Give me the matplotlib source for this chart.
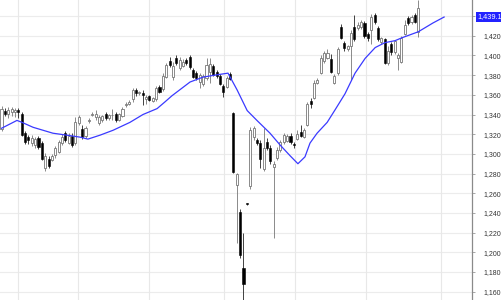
import numpy as np
import matplotlib
matplotlib.use("Agg")
import matplotlib.pyplot as plt
import matplotlib.transforms as mtransforms

plt.rcParams['font.family'] = ['Liberation Sans', 'DejaVu Sans']

# daily candles (index = trading day)
opens = [1325, 1344, 1341, 1343, 1343, 1345, 1341, 1321, 1317, 1311, 1309, 1316, 1311, 1286, 1295, 1294,
         1299, 1302, 1311, 1321, 1311, 1318, 1311, 1331, 1325, 1318, 1333, 1340, 1337, 1331, 1334, 1341,
         1336, 1339, 1341, 1334, 1338, 1350, 1351, 1356, 1365, 1362, 1362, 1356, 1359, 1354, 1356, 1368,
         1366, 1378, 1394, 1378, 1397, 1387, 1389, 1395, 1398, 1385, 1382, 1373, 1371, 1377, 1383, 1389,
         1383, 1379, 1369, 1368, 1381, 1342, 1268, 1241, 1184, 1249.5, 1267, 1317, 1314, 1311, 1285, 1312,
         1306, 1287, 1296, 1304, 1312, 1313, 1318, 1310, 1315, 1322, 1317, 1329, 1354, 1357, 1372, 1382,
         1394, 1397, 1396, 1372, 1382, 1429, 1413, 1407, 1410, 1429, 1428, 1429, 1433, 1422, 1426, 1441,
         1428, 1414, 1417, 1392, 1412, 1403, 1397, 1393, 1422, 1438, 1434, 1441, 1424]
highs = [1349, 1347, 1348, 1348, 1347, 1347, 1343, 1323, 1319, 1319, 1317, 1318, 1313, 1301, 1298, 1300,
         1308, 1314, 1320, 1323, 1321, 1321, 1337, 1340, 1329, 1328, 1336, 1343, 1345, 1339, 1340, 1343,
         1341, 1346, 1343, 1342, 1348, 1353, 1355, 1367, 1367, 1364, 1365, 1360, 1360, 1358, 1369, 1370,
         1382, 1392, 1398, 1393, 1400, 1398, 1396, 1397, 1400, 1387, 1384, 1382, 1381, 1397, 1397, 1391,
         1385, 1381, 1371, 1379, 1383, 1343, 1281, 1244, 1220, 1250, 1327, 1328, 1316, 1314, 1326, 1316,
         1309, 1293, 1307, 1314, 1321, 1320, 1321, 1312, 1324, 1329, 1326, 1353, 1357, 1375, 1377, 1400,
         1404, 1407, 1401, 1381, 1409, 1432, 1415, 1411, 1426, 1441, 1434, 1436, 1435, 1424, 1442, 1443,
         1430, 1419, 1418, 1410, 1414, 1416, 1402, 1420, 1436, 1440, 1441, 1443, 1456]
lows = [1323, 1338, 1336, 1338, 1337, 1336, 1318, 1310, 1310, 1308, 1306, 1305, 1294, 1283, 1286, 1293,
        1296, 1301, 1309, 1312, 1310, 1307, 1309, 1329, 1315, 1316, 1331, 1338, 1334, 1329, 1332, 1334,
        1334, 1334, 1332, 1333, 1337, 1348, 1350, 1353, 1359, 1360, 1350, 1351, 1354, 1353, 1354, 1362,
        1364, 1377, 1388, 1375, 1390, 1385, 1388, 1390, 1386, 1377, 1375, 1367, 1369, 1375, 1372, 1379,
        1377, 1370, 1358, 1367, 1375, 1281, 1209, 1194, 1146, 1248, 1264, 1314, 1309, 1286, 1283, 1304,
        1290, 1215, 1294, 1302, 1310, 1312, 1310, 1306, 1314, 1317, 1316, 1328, 1347, 1356, 1371, 1381,
        1392, 1396, 1382, 1371, 1380, 1417, 1405, 1404, 1375, 1415, 1426, 1427, 1418, 1415, 1412, 1432,
        1415, 1412, 1391, 1390, 1400, 1401, 1385, 1392, 1421, 1431, 1432, 1433, 1419]
closes = [1346, 1341, 1345, 1346, 1345, 1343, 1319, 1312, 1314, 1316, 1315, 1307, 1295, 1298, 1288, 1298,
          1306, 1312, 1317, 1314, 1318, 1309, 1332, 1337, 1317, 1326, 1334, 1341, 1341, 1337, 1338, 1336,
          1339, 1340, 1334, 1341, 1346, 1351, 1353, 1365, 1362, 1363, 1360, 1358, 1355, 1357, 1367, 1363,
          1379, 1390, 1390, 1389, 1392, 1395, 1393, 1392, 1388, 1378, 1377, 1380, 1379, 1390, 1391, 1380,
          1379, 1371, 1363, 1377, 1376, 1282, 1280, 1197, 1168, 1249, 1324, 1326, 1311, 1295, 1306, 1306,
          1293, 1290, 1304, 1312, 1319, 1318, 1312, 1309, 1320, 1318, 1324, 1351, 1351, 1372, 1375, 1397,
          1402, 1402, 1383, 1379, 1407, 1418, 1408, 1410, 1423, 1417, 1431, 1434, 1420, 1418, 1439, 1434,
          1417, 1418, 1392, 1405, 1403, 1415, 1400, 1418, 1431, 1433, 1439, 1434, 1448]

# moving average line (day index, value)
ma_day = [0, 4.6, 6.1, 9.4, 15.3, 19.5, 23.4, 25.7, 29.3, 33.2, 38.2, 42.1, 46.3, 48.7, 50.7, 56.1,
          60, 63.5, 67.4, 70.1, 73.1, 76, 79.9, 82.9, 85.9, 88.2, 90.3, 91.8, 93.9, 96.9, 99.3, 102.2,
          105.2, 108.2, 111.2, 114.1, 117.1, 119.2, 124, 128.4, 131.7]
ma_val = [1326, 1334, 1332, 1327, 1321, 1319, 1317, 1315, 1319, 1324, 1332, 1340, 1346, 1353, 1359, 1373,
          1378, 1380, 1382, 1365, 1344, 1334, 1321, 1309, 1298, 1290, 1297, 1311, 1321, 1332, 1345, 1361,
          1382, 1397, 1408, 1413, 1415, 1418, 1424, 1433, 1439]

month_starts = [4.8, 22.9, 44.0, 66.2, 87.4, 108.4, 130.7]
y_ticks = list(range(1160, 1441, 20))
last_price = 1439.14

o = np.array(opens, dtype=float)
h = np.array(highs, dtype=float)
l = np.array(lows, dtype=float)
c = np.array(closes, dtype=float)
x = np.arange(len(o))
up = c >= o

fig = plt.figure(figsize=(5.01, 3.0), dpi=100)
ax = fig.add_axes([0, 0, 472 / 501, 1])

for yv in y_ticks:
    ax.axhline(yv, color='#ececec', lw=0.8, zorder=0)
for xv in month_starts:
    ax.axvline(xv, color='#e8e8e8', lw=0.8, zorder=0)

# wicks
ax.vlines(x[up], l[up], h[up], color='#777777', lw=0.6, zorder=1)
ax.vlines(x[~up], l[~up], h[~up], color='#222222', lw=0.6, zorder=1)

# bodies
body_lo = np.minimum(o, c)
body_h = np.maximum(np.abs(c - o), 0.8)
ax.bar(x[up], body_h[up], bottom=body_lo[up], width=0.62, color='white',
       edgecolor='#777777', linewidth=0.6, zorder=2)
ax.bar(x[~up], body_h[~up], bottom=body_lo[~up], width=0.62, color='black',
       edgecolor='black', linewidth=0.4, zorder=2)

ax.plot(ma_day, ma_val, color='#3a3aff', lw=0.9, zorder=3)

ax.set_xlim(-0.45, 140.0)
ax.set_ylim(1151.6, 1456.3)

for s in ['left', 'top', 'bottom']:
    ax.spines[s].set_visible(False)
ax.spines['right'].set_color('#8a8a8a')
ax.spines['right'].set_linewidth(0.9)

ax.set_xticks([])
ax.yaxis.tick_right()
ax.set_yticks(y_ticks)
# the 1,440 label sits under the last-price box
ax.set_yticklabels([f"{v:,}" if v != 1440 else "" for v in y_ticks])
ax.tick_params(axis='y', length=2, width=0.6, color='#999999', pad=6,
               labelsize=5.0, labelcolor='#333333')

trans = mtransforms.blended_transform_factory(ax.transAxes, ax.transData)
ax.text(1 + 5.5 / 472, last_price, f"{last_price:,.2f}", transform=trans,
        ha='left', va='center', fontsize=5.3, color='white', zorder=5, clip_on=False,
        bbox=dict(boxstyle='square,pad=0.2', fc='#2323ff', ec='none'))

fig.savefig("out.png", dpi=100)
